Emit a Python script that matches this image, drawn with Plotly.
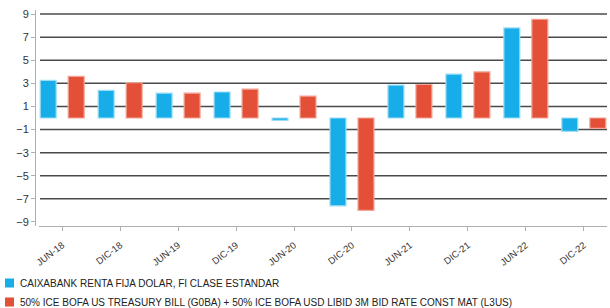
import plotly.graph_objects as go

categories = ["JUN-18", "DIC-18", "JUN-19", "DIC-19", "JUN-20", "DIC-20",
              "JUN-21", "DIC-21", "JUN-22", "DIC-22"]
fund_values = [3.25, 2.4, 2.15, 2.25, -0.2, -7.6, 2.85, 3.8, 7.8, -1.15]
bench_values = [3.6, 3.05, 2.15, 2.5, 1.9, -8.0, 2.9, 4.0, 8.55, -0.9]
series_names = ["CAIXABANK RENTA FIJA DOLAR, FI CLASE ESTANDAR",
                "50% ICE BOFA US TREASURY BILL (G0BA) + 50% ICE BOFA USD LIBID 3M BID RATE CONST MAT (L3US)"]
y_ticks = [-9, -7, -5, -3, -1, 1, 3, 5, 7, 9]
grid_values = [-7, -5, -3, -1, 1, 3, 5, 7, 9]

colors = ["#17ADE9", "#E44F38"]
edge_colors = ["#9BDDF6", "#F2A596"]

L, R, T, B = 35, 3, 10, 82
W, H = 610, 308
pw = W - L - R
ph = H - T - B

fig = go.Figure()
for name, vals, c, ec in zip(series_names, [fund_values, bench_values], colors, edge_colors):
    fig.add_trace(go.Bar(x=categories, y=vals, name=name, marker=dict(color=c, line=dict(color=ec, width=1.2)),
                         showlegend=False))

shapes = []
for g in grid_values:
    shapes.append(dict(type="line", xref="paper", yref="y", x0=5 / pw, x1=1, y0=g, y1=g,
                       line=dict(color="#4a4a4a", width=1.5), layer="below"))

annotations = []
leg_y = [283, 302]
for i, (name, c) in enumerate(zip(series_names, colors)):
    py = leg_y[i]
    shapes.append(dict(type="rect", xref="paper", yref="paper",
                       x0=(5 - L) / pw, x1=(14 - L) / pw,
                       y0=(H - B - (py + 4.5)) / ph, y1=(H - B - (py - 4.5)) / ph,
                       fillcolor=c, line=dict(width=0)))
    annotations.append(dict(xref="paper", yref="paper", x=(18 - L) / pw, y=(H - B - py) / ph,
                            text=name, showarrow=False, xanchor="left", yanchor="middle",
                            font=dict(family="Liberation Sans, Arial", size=10, color="#222")))

fig.update_layout(
    width=W, height=H,
    margin=dict(l=L, r=R, t=T, b=B, autoexpand=False),
    paper_bgcolor="white", plot_bgcolor="white",
    barmode="group", bargap=0.034, bargroupgap=0.43,
    shapes=shapes, annotations=annotations,
    font=dict(family="Liberation Sans, Arial", color="#333"),
    xaxis=dict(domain=[4 / pw, 1], range=[-0.4, 9.4], showgrid=False, showline=True,
               linecolor="#b0b0b0", linewidth=1, ticks="outside", ticklen=4, tickcolor="#b0b0b0",
               tickangle=-38, tickfont=dict(size=9.5, color="#333"), ticklabelstandoff=5,
               zeroline=False, automargin=False),
    yaxis=dict(range=[-9.35, 9.35], tickvals=y_ticks, showgrid=False, zeroline=False,
               showline=True, linecolor="#b0b0b0", linewidth=1, ticks="outside", ticklen=4,
               tickcolor="#b0b0b0", tickfont=dict(size=11, color="#333"),
               anchor="free", position=0, automargin=False),
)

fig.write_html("out.html", config={"displayModeBar": False},
               post_script="document.body.style.margin='0';document.body.style.overflow='hidden';")
